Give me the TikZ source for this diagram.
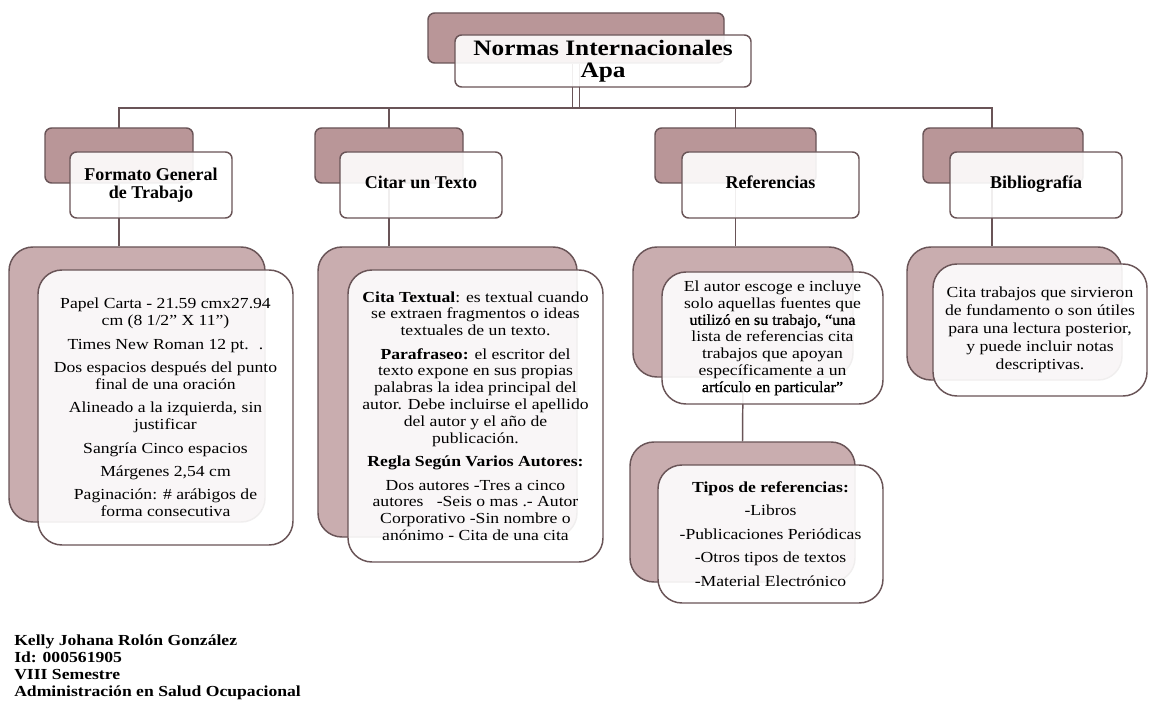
\documentclass[tikz,border=0pt]{standalone}
\usepackage{fontspec}
\setmainfont{Liberation Serif}[FakeStretch=1.15]
\newfontfamily\plainserif{Liberation Serif}
\newfontfamily\darkserif{Liberation Serif}[FakeBold=1,FakeStretch=1.05]

\definecolor{rosefill}{RGB}{185,150,152}
\definecolor{roselight}{RGB}{201,173,175}
\definecolor{edgebrown}{RGB}{105,84,87}

\pgfdeclarelayer{paper}
\pgfdeclarelayer{wires}
\pgfsetlayers{paper,wires,main}

\tikzset{
  sz/.style 2 args={minimum width=#1*0.75pt, minimum height=#2*0.75pt},
  backbox/.style={draw=edgebrown, fill=rosefill, line width=1.1pt, rounded corners=5pt, inner sep=0pt},
  frontbox/.style={draw=edgebrown, fill=white, fill opacity=0.9, text opacity=1, line width=1.1pt,
    rounded corners=5pt, inner sep=0pt, align=center},
  bigback/.style={backbox, fill=roselight, rounded corners=18pt},
  bigfront/.style={frontbox, rounded corners=18pt, font=\fontsize{11.5}{12.6}\selectfont},
  titlefont/.style={font=\plainserif\bfseries\fontsize{13.5}{13.5}\selectfont},
  link/.style={draw=edgebrown, line width=1.1pt}
}

\begin{document}
\begin{tikzpicture}[x=0.75pt, y=-0.75pt]
  \begin{pgfonlayer}{paper}
    \fill[white] (0,0) rectangle (1149,702);
  \end{pgfonlayer}
  \useasboundingbox (0,0) rectangle (1149,702);

  % titulo
  \node[backbox, sz={296}{50}] (topB) at (576,38) {};
  \node[frontbox, sz={296}{52}, font=\bfseries\fontsize{16.5}{16.5}\selectfont] (topF) at (603,61)
    {Normas Internacionales\\Apa};

  % primer nivel
  \node[backbox, sz={148}{55}] (fmtB) at (119,155.5) {};
  \node[frontbox, sz={162}{66}, titlefont] (fmtF) at (151,185) {Formato General\\de Trabajo};
  \node[backbox, sz={148}{55}] (citB) at (389,155.5) {};
  \node[frontbox, sz={162}{66}, titlefont] (citF) at (421,185) {Citar un Texto\strut};
  \node[backbox, sz={161}{55}] (refB) at (735.5,155.5) {};
  \node[frontbox, sz={177}{66}, titlefont] (refF) at (770.5,185) {Referencias\strut};
  \node[backbox, sz={160}{55}] (bibB) at (1003,155.5) {};
  \node[frontbox, sz={172}{66}, titlefont] (bibF) at (1036,185) {Bibliografía\strut};

  % segundo nivel
  \node[bigback, sz={256}{275}] (fmtDB) at (137,384.5) {};
  \node[bigfront, sz={255}{275}] (fmtDF) at (165.5,407.5)
    {Papel Carta - 21.59 cmx27.94\\cm (8 1/2'' X 11'')\\[5pt]
     Times New Roman 12 pt. \ .\\[5pt]
     Dos espacios después del punto\\final de una oración\\[5pt]
     Alineado a la izquierda, sin\\justificar\\[5pt]
     Sangría Cinco espacios\\[5pt]
     Márgenes 2,54 cm\\[5pt]
     Paginación: \# arábigos de\\forma consecutiva};

  \node[bigback, sz={259}{290}] (citDB) at (447.5,392) {};
  \node[bigfront, sz={255}{292}] (citDF) at (475.5,416)
    {\textbf{Cita Textual}: es textual cuando\\se extraen fragmentos o ideas\\textuales de un texto.\\[5pt]
     \textbf{Parafraseo:} el escritor del\\texto expone en sus propias\\palabras la idea principal del\\
     autor. Debe incluirse el apellido\\del autor y el año de\\publicación.\\[5pt]
     \textbf{Regla Según Varios Autores:}\\[5pt]
     Dos autores -Tres a cinco\\autores \ \ -Seis o mas .- Autor\\Corporativo -Sin nombre o\\
     anónimo - Cita de una cita};

  \node[bigback, sz={220}{130}] (refDB) at (743,312) {};
  \node[bigfront, sz={221}{132}] (refDF) at (772.5,338)
    {El autor escoge e incluye\\solo aquellas fuentes que\\
     {\darkserif utilizó en su trabajo, “una}\\lista de referencias cita\\
     trabajos que apoyan\\específicamente a un\\{\darkserif artículo en particular”}};

  \node[bigback, sz={225}{140}] (tipB) at (742.5,512) {};
  \node[bigfront, sz={225}{138}] (tipF) at (770.5,534)
    {\textbf{Tipos de referencias:}\\[5pt]-Libros\\[5pt]-Publicaciones Periódicas\\[5pt]
     -Otros tipos de textos\\[5pt]-Material Electrónico};

  \node[bigback, sz={215}{133}] (bibDB) at (1014.5,313.5) {};
  \node[bigfront, sz={214}{132}, font=\fontsize{11.5}{13.5}\selectfont] (bibDF) at (1040,330)
    {Cita trabajos que sirvieron\\de fundamento o son útiles\\para una lectura posterior,\\
     y puede incluir notas\\descriptivas.};

  % autora
  \node[anchor=west, align=left, inner sep=0pt, font=\bfseries\fontsize{11.5}{12.75}\selectfont]
    (autora) at (14,667.5)
    {Kelly Johana Rolón González\\Id: 000561905\\VIII Semestre\\Administración en Salud Ocupacional};

  % conectores
  \coordinate (bus) at (569,108);
  \coordinate (bibdrop) at (992,108);
  \begin{pgfonlayer}{wires}
    \draw[link, double=white, double distance=4pt] (topB.south) -- (topB.south |- bus);
    \draw[link] (fmtB.north |- fmtDB.north) |- (bibdrop) -- (bibdrop |- bibDB.north);
    \draw[link] (citB.north |- citDB.north) -- (citB.north |- bus);
    \draw[link] (refB.north |- refDB.north) -- (refB.north |- bus);
    \draw[link] (refDB.south) -- (tipB.north);
  \end{pgfonlayer}
\end{tikzpicture}
\end{document}
